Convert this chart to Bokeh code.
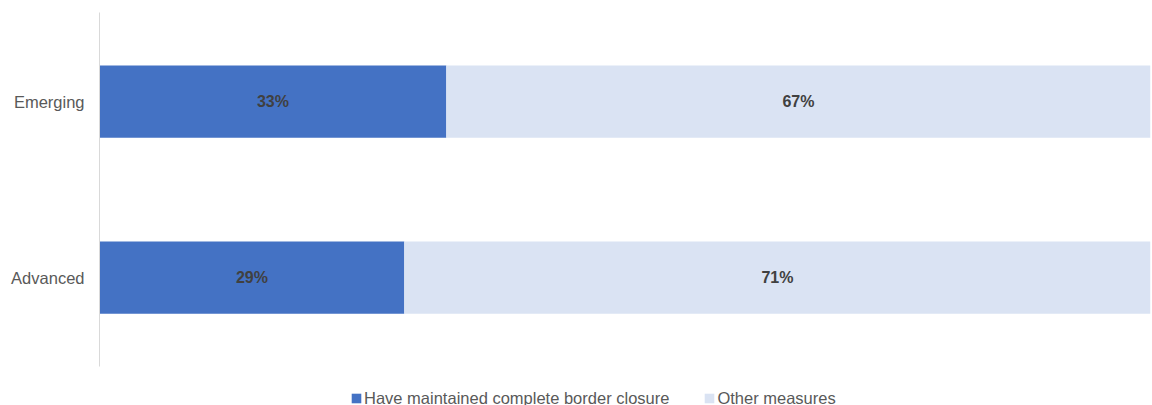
from bokeh.plotting import figure
from bokeh.models import ColumnDataSource, Range1d, Legend, LegendItem, LabelSet, FixedTicker
from bokeh.core.properties import value
from bokeh.embed import file_html
from bokeh.resources import INLINE

categories = ["Advanced", "Emerging"]
closure = [29, 33]
other = [71, 67]
series_names = ["Have maintained complete border closure", "Other measures"]

FONT = "Liberation Sans"
C1 = "#4472C4"
C2 = "#DAE3F3"

ypos = list(range(len(categories)))
src = ColumnDataSource(dict(
    y=ypos,
    closure=closure,
    other=other,
    zero=[0] * len(categories),
    right2=[a + b for a, b in zip(closure, other)],
    mid1=[c / 2 for c in closure],
    mid2=[c + o / 2 for c, o in zip(closure, other)],
    lab1=[f"{c}%" for c in closure],
    lab2=[f"{o}%" for o in other],
))

p = figure(
    width=1152, height=405,
    y_range=Range1d(-0.727, len(categories) - 0.494),
    x_range=Range1d(0, 100),
    output_backend="svg", toolbar_location=None,
    x_axis_location=None,
    min_border_left=99, min_border_right=2, min_border_top=12, min_border_bottom=0,
)
p.outline_line_color = None
p.xgrid.visible = False
p.ygrid.visible = False

r1 = p.hbar(y="y", left="zero", right="closure", height=0.41, source=src,
            fill_color=C1, line_color=None)
r2 = p.hbar(y="y", left="closure", right="right2", height=0.41, source=src,
            fill_color=C2, line_color=None)

for xcol, tcol in (("mid1", "lab1"), ("mid2", "lab2")):
    p.add_layout(LabelSet(x=xcol, y="y", text=tcol, source=src,
                          text_align="center", text_baseline="middle",
                          text_font=value(FONT), text_font_size="16px",
                          text_font_style="bold", text_color="#404040"))

ax = p.yaxis[0]
ax.ticker = FixedTicker(ticks=ypos)
ax.major_label_overrides = {i: c for i, c in zip(ypos, categories)}
ax.bounds = (-0.506, len(categories) - 0.494)
ax.axis_line_color = "#D9D9D9"
ax.axis_line_width = 1
ax.major_tick_line_color = None
ax.minor_tick_line_color = None
ax.major_tick_out = 0
ax.major_label_standoff = 15
ax.major_label_text_font = FONT
ax.major_label_text_font_size = "16.5px"
ax.major_label_text_color = "#595959"

legend = Legend(
    items=[LegendItem(label=series_names[0], renderers=[r1]),
           LegendItem(label=series_names[1], renderers=[r2])],
    orientation="horizontal",
    location=(251, -3),
    glyph_width=12, glyph_height=12,
    label_standoff=2, spacing=34, padding=0, margin=0,
    border_line_color=None, background_fill_alpha=0,
    label_text_font=FONT, label_text_font_size="16.5px",
    label_text_color="#595959", label_height=20,
)
p.add_layout(legend, "center")

open("out.html", "w").write(file_html(p, INLINE))
